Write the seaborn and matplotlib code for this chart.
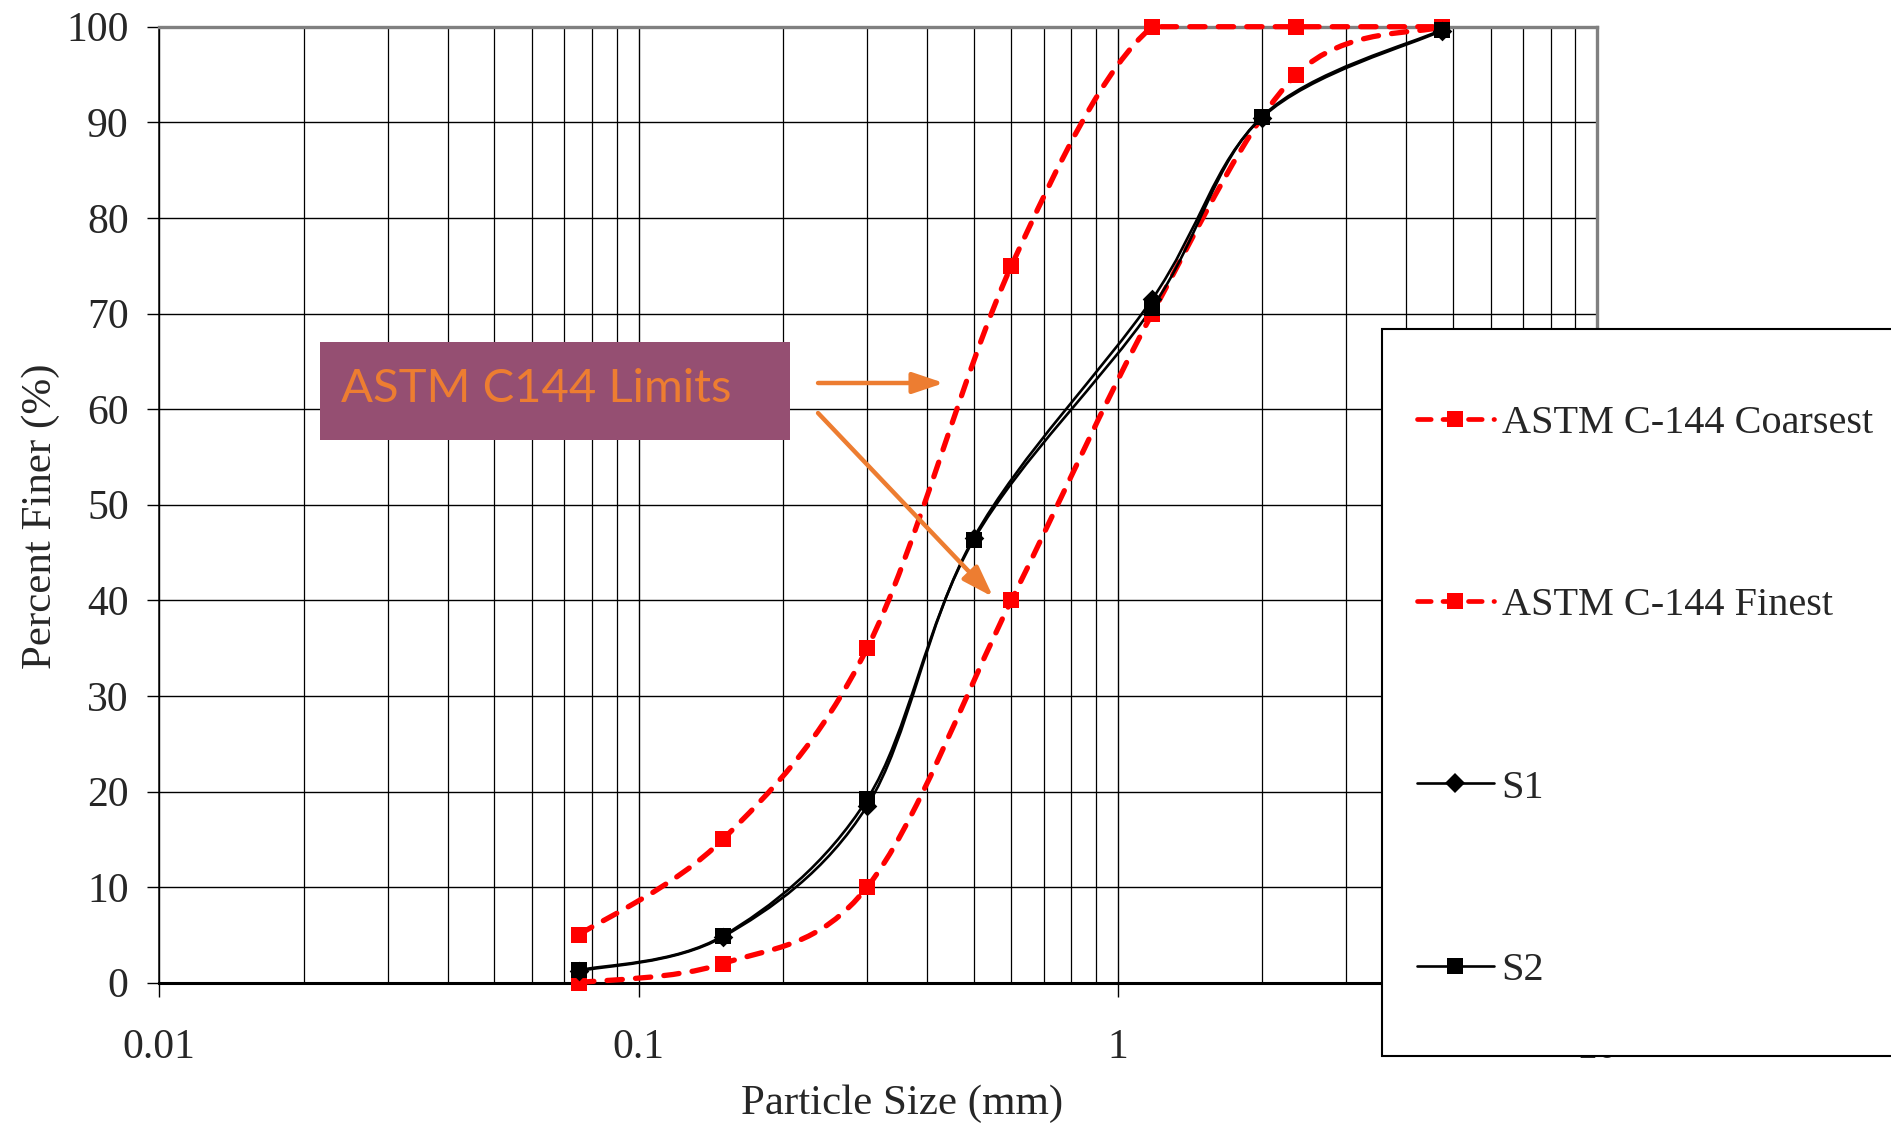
import numpy as np
import pandas as pd
import matplotlib
matplotlib.use("Agg")
import matplotlib.pyplot as plt
import seaborn as sns
from matplotlib.path import Path
from matplotlib.patches import PathPatch, Rectangle
from matplotlib.lines import Line2D
from matplotlib.ticker import LogLocator, FixedLocator, NullFormatter, FixedFormatter

# ---------------- data ----------------
limit_sizes = [0.075, 0.15, 0.3, 0.6, 1.18, 2.36, 4.75]
coarsest = [5, 15, 35, 75, 100, 100, 100]
finest = [0, 2, 10, 40, 70, 95, 100]
sample_sizes = [0.075, 0.15, 0.3, 0.5, 1.18, 2.0, 4.75]
s1 = [1.2, 4.8, 18.5, 46.5, 71.5, 90.5, 99.6]
s2 = [1.3, 4.9, 19.2, 46.3, 70.6, 90.6, 99.7]
series_names = ["ASTM C-144 Coarsest", "ASTM C-144 Finest", "S1", "S2"]
x_ticks = [0.01, 0.1, 1, 10]
x_tick_labels = ["0.01", "0.1", "1", "10"]
y_ticks = list(range(0, 101, 10))
annotation_text = "ASTM C144 Limits"

# ---------------- style ----------------
sns.set_style("white")
plt.rcParams["font.family"] = ["Liberation Serif", "DejaVu Serif"]

RED = "#FF0000"
ORANGE = "#ED7D31"
PURPLE = "#954F72"

fig = plt.figure(figsize=(18.91, 11.27), dpi=100)
ax = fig.add_axes([159.3 / 1891, 1 - 982.7 / 1127, (1597 - 159.3) / 1891, (982.7 - 26.7) / 1127])
ax.set_xscale("log")
ax.set_xlim(0.01, 10)
ax.set_ylim(0, 100)


def smooth_path(xs, ys):
    """Excel-like smoothed line (Catmull-Rom Bezier) in log-x space, no overshoot."""
    P = np.column_stack([np.log10(np.asarray(xs, float)), np.asarray(ys, float)])
    n = len(P)
    verts = [P[0].copy()]
    codes = [Path.MOVETO]
    for i in range(n - 1):
        p0 = P[i - 1] if i > 0 else P[i]
        p1, p2 = P[i], P[i + 1]
        p3 = P[i + 2] if i + 2 < n else P[i + 1]
        c1 = p1 + (p2 - p0) / 6.0
        c2 = p2 - (p3 - p1) / 6.0
        lo, hi = min(p1[1], p2[1]), max(p1[1], p2[1])
        c1[1] = np.clip(c1[1], lo, hi)
        c2[1] = np.clip(c2[1], lo, hi)
        verts += [c1, c2, p2.copy()]
        codes += [Path.CURVE4] * 3
    V = np.array(verts)
    V[:, 0] = 10 ** V[:, 0]
    return Path(V, codes)


red_ls = (0, (2.9, 2.5))
series = [
    (limit_sizes, coarsest, RED, red_ls, 3.8, "s", 140),
    (limit_sizes, finest, RED, red_ls, 3.8, "s", 140),
    (sample_sizes, s1, "black", "-", 1.9, "D", 100),
    (sample_sizes, s2, "black", "-", 1.9, "s", 130),
]

handles = []
for (xs, ys, col, ls, lw, mk, ms), name in zip(series, series_names):
    patch = PathPatch(smooth_path(xs, ys), fill=False, edgecolor=col, lw=lw,
                      linestyle=ls, capstyle="round", zorder=3, clip_on=False)
    ax.add_patch(patch)
    df = pd.DataFrame({"size": xs, "finer": ys})
    sns.scatterplot(data=df, x="size", y="finer", ax=ax, marker=mk, s=ms,
                    color=col, edgecolor=col, linewidth=0, zorder=4,
                    clip_on=False, legend=False)
    handles.append(Line2D([], [], color=col, lw=min(lw, 3.4), linestyle=ls,
                          dash_capstyle="round", marker=mk,
                          markersize=np.sqrt(ms) * 1.0, markeredgewidth=0))

ax.set_xlim(0.01, 10)
ax.set_ylim(0, 100)

# grid
ax.xaxis.set_major_locator(FixedLocator(x_ticks))
ax.xaxis.set_major_formatter(FixedFormatter(x_tick_labels))
ax.xaxis.set_minor_locator(LogLocator(base=10, subs=np.arange(2, 10)))
ax.xaxis.set_minor_formatter(NullFormatter())
ax.yaxis.set_major_locator(FixedLocator(y_ticks))
ax.grid(True, which="major", axis="both", color="black", lw=1.0)
ax.grid(True, which="minor", axis="x", color="black", lw=0.9)
ax.set_axisbelow(True)

ax.tick_params(axis="x", which="major", direction="out", length=10, width=1.0,
               color="black", labelsize=30, pad=23, bottom=True)
ax.tick_params(axis="x", which="minor", length=0)
ax.tick_params(axis="y", direction="out", length=9, width=1.0, color="black",
               labelsize=30, pad=13, left=True)

for side in ["top", "right"]:
    ax.spines[side].set_color("#808080")
    ax.spines[side].set_linewidth(2.4)
ax.spines["left"].set_color("black")
ax.spines["left"].set_linewidth(1.1)
ax.spines["bottom"].set_color("black")
ax.spines["bottom"].set_linewidth(2.2)

ax.set_xlabel("Particle Size (mm)", fontsize=31)
ax.set_ylabel("Percent Finer (%)", fontsize=31)
ax.xaxis.set_label_coords(0.5166, -0.106)
ax.yaxis.set_label_coords(-0.069, 0.488)

# annotation box with arrows
ax.add_patch(Rectangle((0.02164, 56.77), 0.2070 - 0.02164, 67.07 - 56.77,
                       facecolor=PURPLE, edgecolor="none", zorder=5))
ax.text(0.02394, 60.74, annotation_text, color=ORANGE, fontsize=34,
        family=["Lato", "DejaVu Sans"], va="baseline", ha="left", zorder=6)
arrow_kw = dict(arrowstyle="-|>,head_length=0.95,head_width=0.32",
                color=ORANGE, lw=3.2, shrinkA=0, shrinkB=0, mutation_scale=20)
ax.annotate("", xy=(0.4340, 62.73), xytext=(0.2369, 62.73),
            arrowprops=arrow_kw, zorder=6)
ax.annotate("", xy=(0.5494, 40.35), xytext=(0.2369, 59.59),
            arrowprops=arrow_kw, zorder=6)

# legend with its own frame extending past the figure edge
frame = Rectangle((1381.7 / 1891, 1 - 1055.7 / 1127), 0.4, (1055.7 - 329) / 1127,
                  transform=fig.transFigure, facecolor="white",
                  edgecolor="black", lw=1.5, zorder=2)
fig.add_artist(frame)
leg = fig.legend(handles, series_names, loc="upper left",
                 bbox_to_anchor=(1417 / 1891, 1 - 405 / 1127),
                 frameon=False, fontsize=29, borderpad=0, borderaxespad=0,
                 handlelength=1.9, handletextpad=0.2, labelspacing=3.6)
leg.set_zorder(10)

fig.savefig("out.png", dpi=100)
